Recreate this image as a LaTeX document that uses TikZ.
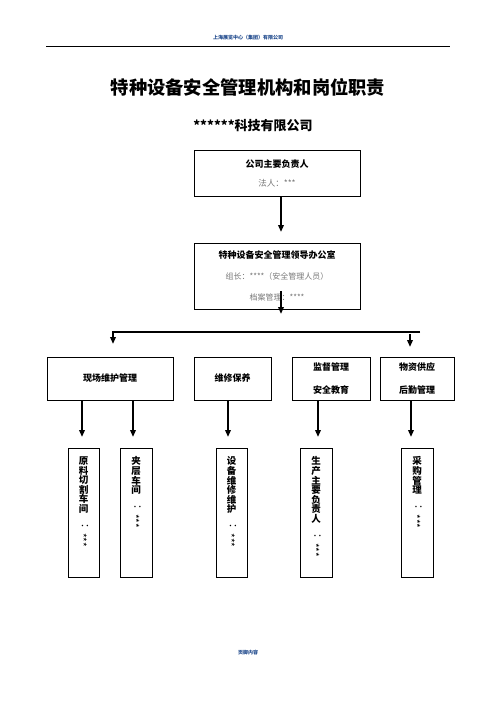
\documentclass[tikz,border=0pt]{standalone}
\usepackage{fontspec}
\usepackage{graphicx}
\setmainfont{Noto Sans CJK SC}
\usetikzlibrary{arrows.meta}

\definecolor{headblue}{RGB}{31,73,140}
\definecolor{softgray}{RGB}{120,120,120}

\begin{document}
\begin{tikzpicture}[x=1pt, y=-1pt,
    box/.style={draw, line width=0.8pt, inner sep=0pt, align=center},
    boxfont/.style={font=\fontsize{9}{19}\selectfont\bfseries},
    arrowline/.style={line width=1.8pt, -{Triangle[width=5.5pt,length=7pt]}},
    coltext/.style={anchor=north, align=center, inner sep=0pt,
        font=\fontsize{9.5}{9.6}\selectfont\bfseries}]
        \useasboundingbox (0,0) rectangle (496,702);

        % Page header and footer
        \node[text=headblue, font=\fontsize{5}{6}\selectfont\bfseries] (header) at (248,38) {上海展览中心（集团）有限公司};
        \draw[line width=0.8pt] (46,46) -- (450,46);
        \node[text=headblue, font=\fontsize{5}{6}\selectfont\bfseries] (footer) at (248,653) {页脚内容};

        % Titles
        \node[font=\fontsize{18.3}{20}\selectfont\bfseries] (title) at (248,87) {特种设备安全管理机构和岗位职责};
        \node[font=\fontsize{13}{15}\selectfont\bfseries] (company) at (253,126) {******科技有限公司};

        % Top of the chart
        \node[box, boxfont, minimum width=166pt, minimum height=46pt] (boss) at (277,173.5)
            {公司主要负责人\\{\mdseries\fontsize{8.5}{19}\selectfont\color{softgray}法人：***}};
        \node[box, boxfont, font=\fontsize{9}{21}\selectfont\bfseries, minimum width=166pt, minimum height=66pt] (office) at (277,276)
            {特种设备安全管理领导办公室\\{\mdseries\fontsize{8}{21}\selectfont\color{softgray}组长：****（安全管理人员）}\\{\mdseries\fontsize{8}{21}\selectfont\color{softgray}档案管理：****}};

        \coordinate (bossTip) at (281,232);
        \draw[arrowline] (boss.south -| bossTip) -- (bossTip);
        \coordinate (officeOut) at (281,291);
        \coordinate (officeTip) at (281,314);
        \draw[arrowline] (officeOut) -- (officeTip);

        % Second row: departments
        \node[box, boxfont, minimum width=126pt, minimum height=43pt] (site) at (110,378.5) {现场维护管理};
        \node[box, boxfont, minimum width=77pt, minimum height=43pt] (repair) at (232.5,378.5) {维修保养};
        \node[box, boxfont, font=\fontsize{9}{23}\selectfont\bfseries, minimum width=78pt, minimum height=43pt] (watch) at (331,378.5) {监督管理\\安全教育};
        \node[box, boxfont, font=\fontsize{9}{23}\selectfont\bfseries, minimum width=74pt, minimum height=43pt] (supply) at (417,378.5) {物资供应\\后勤管理};

        % Bar over the second row
        \coordinate (barLeft) at (113,332);
        \coordinate (barRight) at (420,332);
        \coordinate (siteTip) at (113,344);
        \coordinate (supplyTop) at (410,334);
        \coordinate (supplyTip) at (410,347);
        \draw[line width=1.8pt] (barRight) -- (barLeft) -- ++(0,4);
        \draw[arrowline] (barLeft) -- (siteTip);
        \draw[arrowline] (supplyTop) -- (supplyTip);

        % Third row: posts, written top to bottom
        \foreach \name/\x/\w/\txt in {postA/83.5/31/原\\料\\切\\割\\车\\间,
                                      postB/136/32/夹\\层\\车\\间,
                                      postC/231.5/31/设\\备\\维\\修\\维\\护,
                                      postD/316/32/生\\产\\主\\要\\负\\责\\人,
                                      postE/417/32/采\\购\\管\\理}
        {
            \node[box, minimum width=\w pt, minimum height=129pt] (\name) at (\x,512.5) {};
            \node[coltext] (\name-txt) at ([yshift=-9pt]\name.north) {\txt\\[1pt]\rotatebox{-90}{\mdseries\fontsize{10}{12}\selectfont ：\raisebox{-3pt}{***}}};
        }

        % Arrows down to the posts
        \coordinate (tipA) at (82,437);
        \coordinate (tipB) at (133,437);
        \coordinate (tipC) at (228,437);
        \coordinate (tipD) at (318,437);
        \coordinate (tipE) at (411,437);
        \draw[arrowline] (site.south -| tipA) -- (tipA);
        \draw[arrowline] (site.south -| tipB) -- (tipB);
        \draw[arrowline] (repair.south -| tipC) -- (tipC);
        \draw[arrowline] (watch.south -| tipD) -- (tipD);
        \draw[arrowline] (supply.south -| tipE) -- (tipE);

    \end{tikzpicture}
\end{document}
